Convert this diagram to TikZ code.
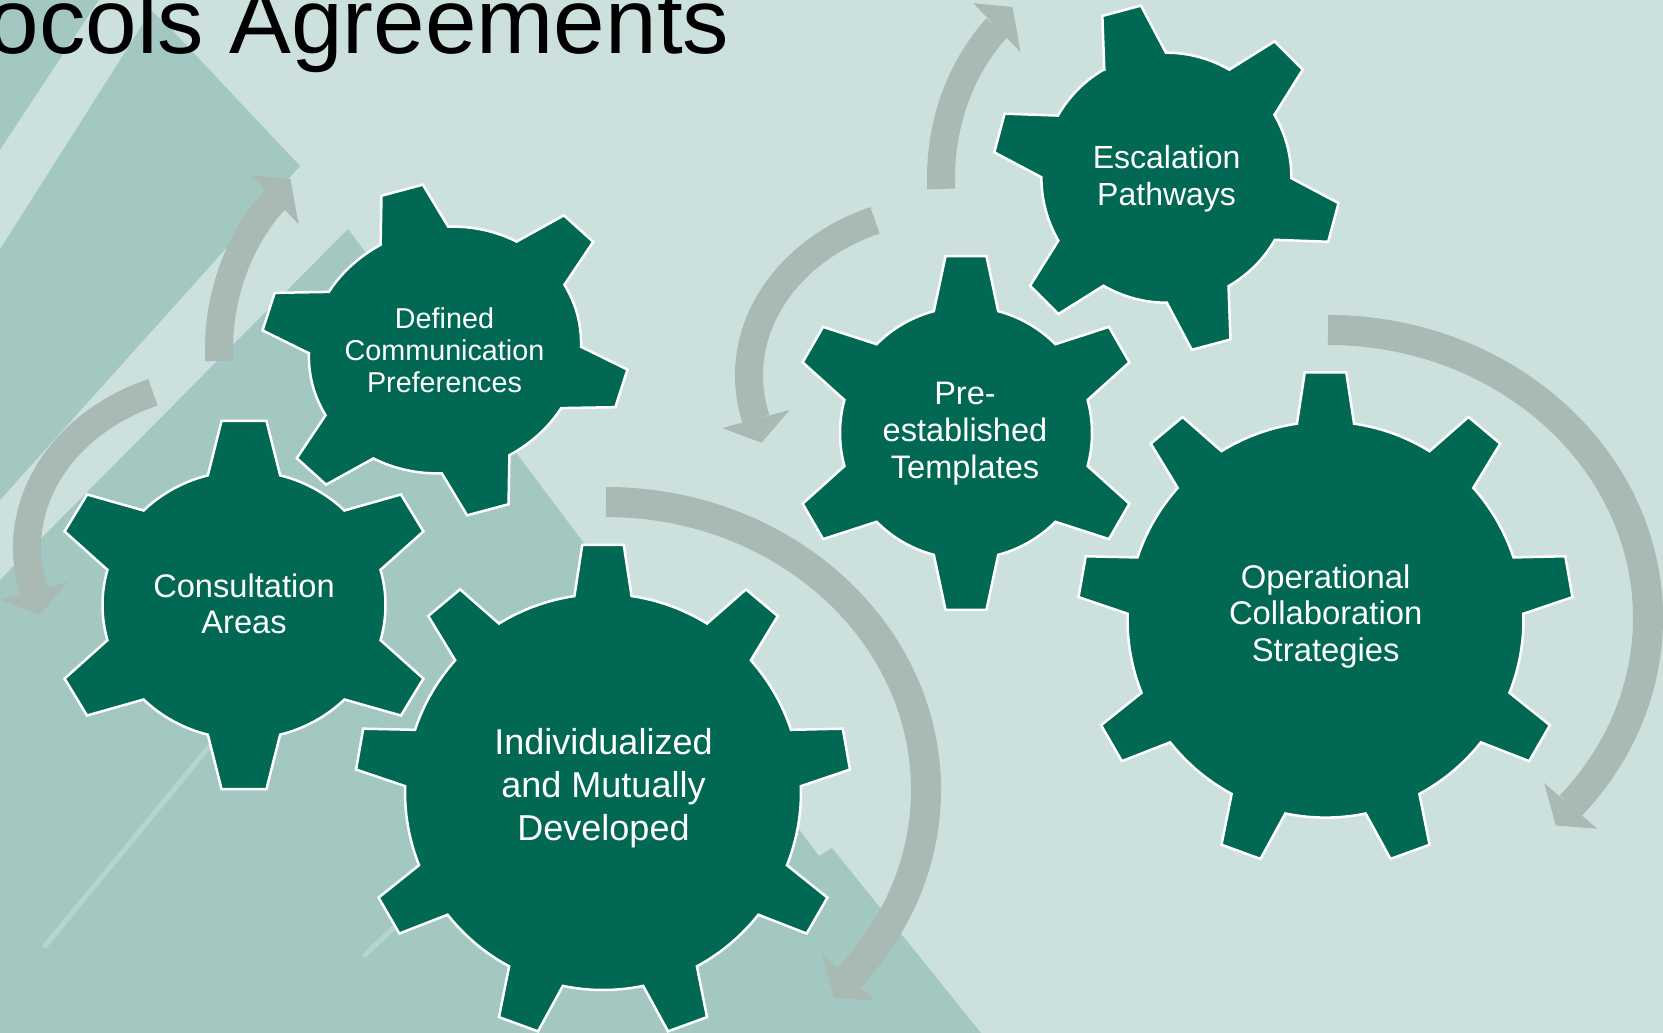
\documentclass[tikz,border=0pt]{standalone}
\usepackage{fontspec}
\setmainfont{Liberation Sans}
\definecolor{bglight}{HTML}{CCE1DD}
\definecolor{bgdark}{HTML}{A3C8C1}
\definecolor{gearcol}{HTML}{006853}
\definecolor{arrowcol}{HTML}{A9B9B3}
% gear: #1 transform, #2 tooth angle list, #3 first angle, #4 step, #5 body r, #6 tip r, #7 half base angle, #8 half tip angle
\newcommand{\mygear}[8]{%
  \begin{scope}[#1]
    \path[gearshp] (#3-#7:#5) \foreach \a in {#2} { -- (\a-#8:#6) -- (\a+#8:#6) -- (\a+#7:#5) arc[start angle=\a+#7, end angle=\a+#4-#7, radius=#5] } -- cycle;
  \end{scope}}
% arrow: #1 cx, #2 cy, #3 rx, #4 ry, #5 tail t, #6 head base t, #7 tip t, #8 band width, #9 head half width
\newcommand{\myarrow}[9]{%
  \begin{scope}[shift={(#1,#2)}]
    \draw[band, line width=#8] ({#3*cos(#5)},{#4*sin(#5)}) arc[start angle=#5, end angle=#6, x radius=#3, y radius=#4];
    \fill[arrowcol] ({(#3+#9)*cos(#6)},{(#4+#9)*sin(#6)}) -- ({(#3+4)*cos(#7)},{(#4+4)*sin(#7)}) -- ({(#3-#9)*cos(#6)},{(#4-#9)*sin(#6)}) -- cycle;
  \end{scope}}
\begin{document}
\begin{tikzpicture}[x=0.01cm,y=-0.01cm,
  gearshp/.style={fill=gearcol, draw=white, line width=0.025cm},
  band/.style={draw=arrowcol, line cap=butt},
  lbl/.style={text=white, align=center, inner sep=0pt},
  streak/.style={draw=white, opacity=0.22, line width=0.05cm, line cap=round}]
\useasboundingbox (0,0) rectangle (1663,1033);
\begin{scope}
\clip (0,0) rectangle (1663,1033);
% background
\fill[bglight] (0,0) rectangle (1663,1033);
\fill[bgdark] (0,0) -- (140,0) -- (172,30) -- (300,166) -- (0,500) -- cycle;
\fill[bglight] (99,0) -- (158,0) -- (0,249) -- (0,150) -- cycle;
\fill[bgdark] (0,580) -- (348,229) -- (819,856) -- (832,848) -- (981,1033) -- (0,1033) -- cycle;
\draw[streak] (45,946) -- (330,600);
\draw[streak] (365,955) -- (515,812);
% title
\node[anchor=base east, inner sep=0pt, font=\fontsize{26.35}{31}\selectfont] (title) at (730,53) {ocols Agreements};
% arrows
\myarrow{231}{547.5}{204}{168}{247.5}{165}{157}{0.28cm}{35}
\myarrow{402}{350}{183}{209}{177}{226}{233.4}{0.28cm}{34}
\myarrow{606}{790}{320}{288}{-90}{40.7}{45.3}{0.30cm}{35}
\myarrow{953}{375.5}{204}{168}{247.5}{165}{157}{0.28cm}{35}
\myarrow{1124}{178}{183}{209}{177}{226}{233.4}{0.28cm}{34}
\myarrow{1328}{618}{320}{288}{-90}{40.7}{45.3}{0.30cm}{35}
% gears
\mygear{shift={(244,605)}, yscale=0.948}{-90,-30,...,210}{-90}{60}{141.5}{195.5}{14.8}{6.6}
\mygear{shift={(445,350)}, rotate=15, yscale=0.893}{-90,-30,...,210}{-90}{60}{137}{186.5}{14.8}{6.6}
\mygear{shift={(603,792)}}{-90,-50,...,230}{-90}{40}{198}{248}{8.3}{4.8}
\mygear{shift={(966,433)}}{-90,-30,...,210}{-90}{60}{126}{178}{14.8}{6.6}
\mygear{shift={(1166.4,177.7)}, rotate=15}{-90,-30,...,210}{-90}{60}{125}{174}{14.8}{6.6}
\mygear{shift={(1325.5,619.6)}}{-90,-50,...,230}{-90}{40}{198}{248}{8.3}{4.8}
% labels
\node[lbl, font=\fontsize{9.28}{10.33}\selectfont] (tA) at (244,604) {Consultation\\Areas};
\node[lbl, font=\fontsize{8.17}{9.05}\selectfont] (tB) at (444.5,350) {Defined\\Communication\\Preferences};
\node[lbl, font=\fontsize{10.24}{12.2}\selectfont] (tC) at (603.5,788) {Individualized\\and Mutually\\Developed};
\node[lbl, font=\fontsize{9.25}{10.5}\selectfont] (tE) at (965,434) {Pre-\\established\\Templates};
\node[lbl, font=\fontsize{9.1}{10.5}\selectfont] (tF) at (1166.6,178.5) {Escalation\\Pathways};
\node[lbl, font=\fontsize{9.33}{10.4}\selectfont] (tD) at (1325.7,616.5) {Operational\\Collaboration\\Strategies};
\end{scope}
\end{tikzpicture}
\end{document}
